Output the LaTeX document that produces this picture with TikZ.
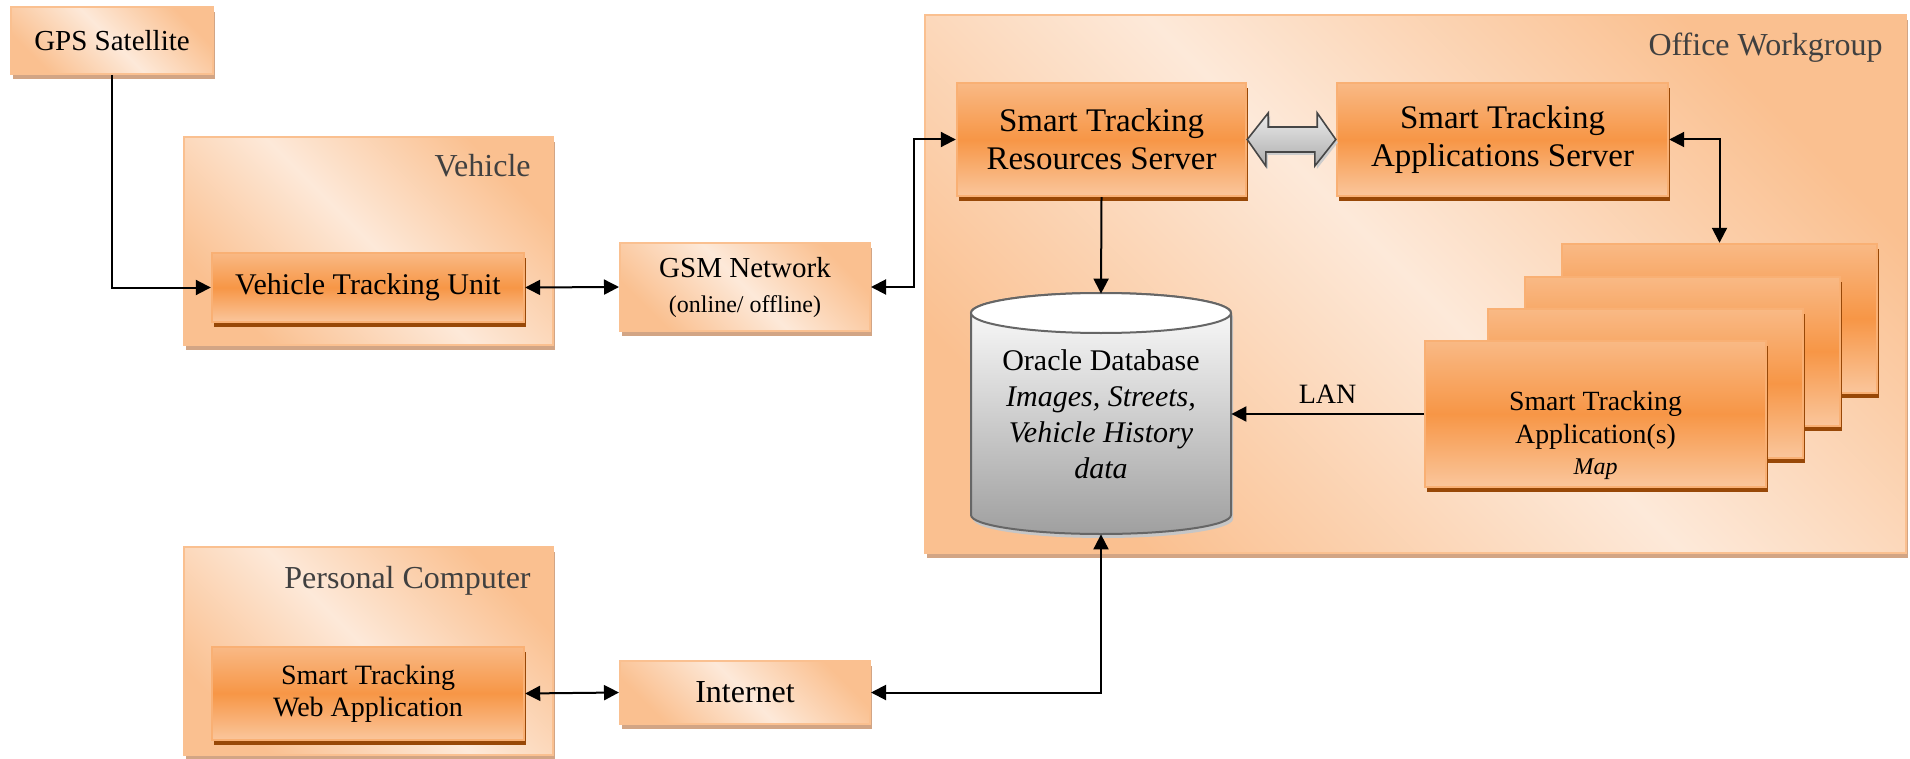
\documentclass[tikz,border=0pt]{standalone}
\usepackage{fontspec}
\setmainfont{Liberation Serif}
\usetikzlibrary{arrows.meta,shadows,calc}

\definecolor{peachlight}{HTML}{FDE9D9}
\definecolor{peachdark}{HTML}{FAC090}
\definecolor{accentorange}{HTML}{F79646}
\definecolor{unittop}{HTML}{F9B985}
\definecolor{unitbottom}{HTML}{FAC69C}
\definecolor{rustshadow}{HTML}{984807}
\definecolor{tanshadow}{HTML}{D2A585}
\definecolor{labelgray}{HTML}{404040}
\definecolor{dbline}{HTML}{666666}

\tikzset{
  lightbox/.style={draw=peachdark, line width=1pt, inner sep=0pt,
    top color=peachdark, bottom color=peachdark, middle color=peachlight,
    shading angle=-45,
    drop shadow={shadow xshift=1pt, shadow yshift=-2.5pt, fill=tanshadow, opacity=1}},
  unitbox/.style={draw=accentorange!75!white, line width=1.2pt, inner sep=0pt,
    top color=unittop, bottom color=unitbottom, middle color=accentorange,
    drop shadow={shadow xshift=1.2pt, shadow yshift=-2.5pt, fill=rustshadow, opacity=1}},
  grouplabel/.style={anchor=base east, inner sep=0pt, text=labelgray,
    font=\fontsize{16}{19}\selectfont},
  link/.style={line width=1pt, -{Triangle[length=7.5pt,width=7.5pt]}},
  duplex/.style={line width=1pt, {Triangle[length=7.5pt,width=7.5pt]}-{Triangle[length=7.5pt,width=7.5pt]}},
}

\begin{document}
\begin{tikzpicture}[x=0.5pt, y=-0.5pt]
\useasboundingbox (0,0) rectangle (1910,759);

% group frames
\node[lightbox, minimum width=184.5pt, minimum height=104pt] (vehicle) at (368.5,241) {};
\node[grouplabel] at ([shift={(-23,41)}]vehicle.north east) {Vehicle};
\node[lightbox, minimum width=184.5pt, minimum height=104pt] (pc) at (368.5,651) {};
\node[grouplabel] at ([shift={(-23,42)}]pc.north east) {Personal Computer};
\node[lightbox, minimum width=490.5pt, minimum height=269pt] (office) at (1415.5,284) {};
\node[grouplabel] at ([shift={(-24,42)}]office.north east) {Office Workgroup};

% outside boxes
\node[lightbox, minimum width=101pt, minimum height=33.5pt,
  font=\fontsize{14.5}{17.5}\selectfont] (gps) at (112,40.5) {GPS Satellite};
\node[lightbox, minimum width=125pt, minimum height=44pt, align=center,
  font=\fontsize{14.5}{17.5}\selectfont] (gsm) at (745,287)
  {GSM Network\\{\fontsize{12}{14}\selectfont (online/ offline)}};
\node[lightbox, minimum width=125pt, minimum height=31.5pt,
  font=\fontsize{16}{19}\selectfont] (internet) at (745,692.5) {Internet};

% units
\node[unitbox, minimum width=156pt, minimum height=34.5pt,
  font=\fontsize{15}{18}\selectfont] (vtu) at (368,287.5) {Vehicle Tracking Unit};
\node[unitbox, minimum width=156pt, minimum height=46.5pt, align=center,
  font=\fontsize{14}{16}\selectfont] (webapp) at (368,693.5)
  {Smart Tracking\\Web Application};
\node[unitbox, minimum width=144.5pt, minimum height=56.5pt, align=center,
  font=\fontsize{16.5}{19}\selectfont] (strs) at (1101.5,139.5)
  {Smart Tracking\\Resources Server};
\node[unitbox, minimum width=165.5pt, minimum height=56.5pt, align=center,
  font=\fontsize{16.5}{19}\selectfont] (stas) at (1502.5,139.5)
  {Smart Tracking\\Applications Server};

% application stack
\node[unitbox, minimum width=157.5pt, minimum height=74.5pt] (app4) at (1719.5,318.5) {};
\node[unitbox, minimum width=157.5pt, minimum height=74.5pt] (app3) at (1682.5,351.5) {};
\node[unitbox, minimum width=157.5pt, minimum height=74.5pt] (app2) at (1645.5,383.5) {};
\node[unitbox, minimum width=170.5pt, minimum height=73pt] (app1) at (1595.5,414) {};
\node[align=center, inner sep=0pt, font=\fontsize{13.9}{16.5}\selectfont] (apptext)
  at ([shift={(0,21)}]app1.center)
  {Smart Tracking\\Application(s)\\[-1pt]{\fontsize{12}{14}\selectfont\itshape Map}};

% database
\draw[dbline, line width=1pt, top color=white, bottom color=gray!75,
  drop shadow={shadow xshift=1pt, shadow yshift=-2pt, fill=gray!45, opacity=1}]
  (971,313) -- (971,515) arc[start angle=180, end angle=360, x radius=65pt, y radius=9.5pt]
  -- (1231,313) arc[start angle=0, end angle=180, x radius=65pt, y radius=10pt] -- cycle;
\draw[dbline, line width=1pt, fill=white] (1101,313) ellipse[x radius=65pt, y radius=10pt];
\node[minimum width=130pt, minimum height=120pt, inner sep=0pt, align=center,
  font=\fontsize{15}{18}\selectfont] (oracle) at (1101,414)
  {Oracle Database\\\itshape Images, Streets,\\\itshape Vehicle History\\\itshape data};

% exchange between the servers
\draw[gray!55!black, line width=0.8pt, top color=gray!15, bottom color=gray!65,
  drop shadow={shadow xshift=1pt, shadow yshift=-1.5pt, fill=gray!40, opacity=1}]
  (strs.east) -- ++(21,-26.5) -- ++(0,14) -- ++(49,0) -- ++(0,-14) -- (stas.west)
  -- ++(-21,26.5) -- ++(0,-14) -- ++(-49,0) -- ++(0,14) -- cycle;

% links
\draw[link] (gps.south) |- (vtu.west);
\draw[duplex] (vtu.east) -- (gsm.west);
\draw[duplex] (gsm.east) -- ++(43,0) |- (strs.west);
\draw[link] (strs.south) -- (oracle.north);
\draw[duplex] (stas.east) -| (app4.north);
\draw[link] (app1.west) -- node[above=4.9pt, inner sep=0pt,
  font=\fontsize{14}{16}\selectfont] {LAN} (oracle.east);
\draw[duplex] (oracle.south) |- (internet.east);
\draw[duplex] (webapp.east) -- (internet.west);
\end{tikzpicture}
\end{document}
